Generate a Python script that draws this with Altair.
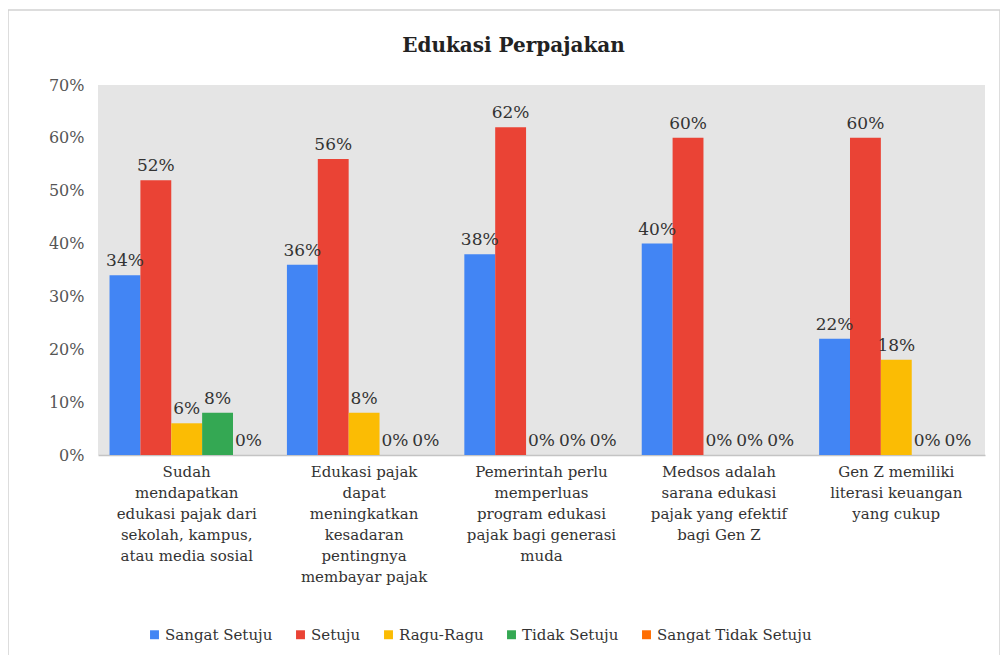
import altair as alt
import pandas as pd

categories = [
    "Sudah|mendapatkan|edukasi pajak dari|sekolah, kampus,|atau media sosial",
    "Edukasi pajak|dapat|meningkatkan|kesadaran|pentingnya|membayar pajak",
    "Pemerintah perlu|memperluas|program edukasi|pajak bagi generasi|muda",
    "Medsos adalah|sarana edukasi|pajak yang efektif|bagi Gen Z",
    "Gen Z memiliki|literasi keuangan|yang cukup",
]
series = ["Sangat Setuju", "Setuju", "Ragu-Ragu", "Tidak Setuju", "Sangat Tidak Setuju"]
colors = ["#4285F4", "#EA4335", "#FBBC04", "#34A853", "#FF6D01"]

sangat_setuju = [34, 36, 38, 40, 22]
setuju = [52, 56, 62, 60, 60]
ragu_ragu = [6, 8, 0, 0, 18]
tidak_setuju = [8, 0, 0, 0, 0]
sangat_tidak_setuju = [0, 0, 0, 0, 0]

y_ticks = [0, 10, 20, 30, 40, 50, 60, 70]

values_by_series = [sangat_setuju, setuju, ragu_ragu, tidak_setuju, sangat_tidak_setuju]
rows = []
for s, vals in zip(series, values_by_series):
    for c, v in zip(categories, vals):
        rows.append({"cat": c, "series": s, "value": v})
df = pd.DataFrame(rows)

FONT = "DejaVu Serif"

x_enc = alt.X(
    "cat:N",
    sort=categories,
    scale=alt.Scale(paddingInner=0.13, paddingOuter=0.065),
    axis=alt.Axis(
        title=None,
        labelAngle=0,
        labelExpr="split(datum.label, '|')",
        labelLineHeight=21,
        labelLimit=0,
        labelPadding=9,
        labelFont=FONT,
        labelFontSize=15,
        labelColor="#333333",
        ticks=False,
        domain=True,
        domainColor="#c4c4c4",
        domainWidth=1.5,
        grid=False,
    ),
)
xoff = alt.XOffset("series:N", sort=series, scale=alt.Scale(paddingInner=0, paddingOuter=0))
y_enc = alt.Y(
    "value:Q",
    scale=alt.Scale(domain=[0, 70]),
    axis=alt.Axis(
        title=None,
        values=y_ticks,
        labelExpr="datum.value + '%'",
        labelFont=FONT,
        labelFontSize=16,
        labelColor="#555555",
        labelPadding=14,
        ticks=False,
        domain=False,
        grid=False,
    ),
)

base = alt.Chart(df)

bars = base.mark_bar().encode(
    x=x_enc,
    xOffset=xoff,
    y=y_enc,
    color=alt.Color(
        "series:N",
        sort=series,
        scale=alt.Scale(domain=series, range=colors),
        legend=alt.Legend(
            title=None,
            orient="none",
            legendX=49,
            legendY=542,
            direction="horizontal",
            columns=5,
            columnPadding=20,
            symbolType="square",
            symbolSize=80,
            symbolStrokeWidth=0,
            labelFont=FONT,
            labelFontSize=15,
            labelColor="#333333",
            labelOffset=3,
            labelLimit=0,
        ),
    ),
)

labels = base.mark_text(
    baseline="bottom", dy=-5, font=FONT, fontSize=17, color="#333333"
).transform_calculate(label="datum.value + '%'").encode(
    x=alt.X("cat:N", sort=categories),
    xOffset=xoff,
    y=alt.Y("value:Q"),
    text="label:N",
)

border = alt.Chart(pd.DataFrame({"a": [0]})).mark_rect(
    fill=None, stroke="#d2d2d2", strokeWidth=1.5
).encode(
    x=alt.value(-90), x2=alt.value(902), y=alt.value(-75), y2=alt.value(584)
)

chart = alt.layer(border, bars, labels).properties(
    width=887,
    height=370,
    title=alt.TitleParams(
        "Edukasi Perpajakan",
        font=FONT,
        fontSize=20,
        fontWeight="bold",
        color="#222222",
        anchor="middle",
        frame="group",
        baseline="bottom",
        dx=-28,
        offset=-67,
    ),
    autosize=alt.AutoSizeParams(type="none"),
    padding={"left": 90, "top": 77, "right": 15, "bottom": 200},
).configure_view(
    fill="#e5e5e5", stroke=None
)

chart.save("out.html", embed_options={"renderer": "svg", "actions": False})
